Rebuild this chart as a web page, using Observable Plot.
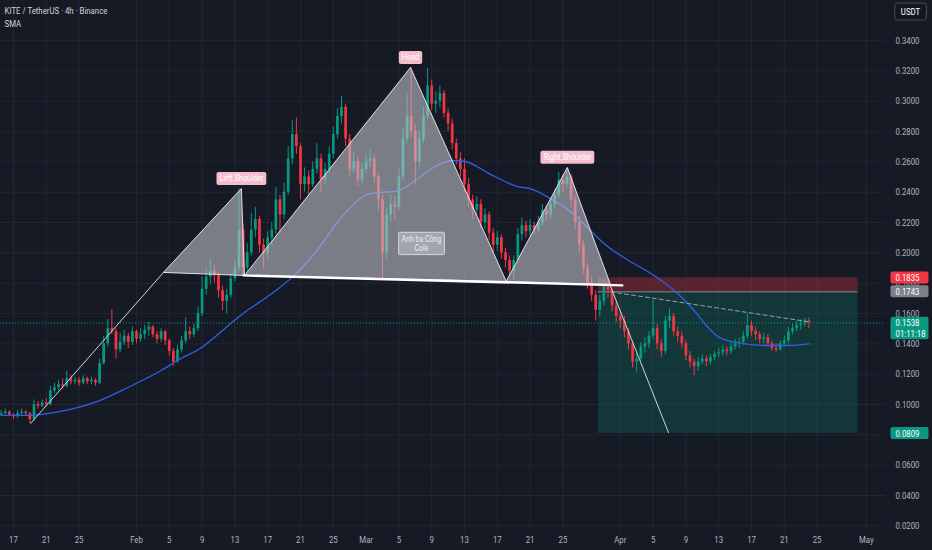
<!DOCTYPE html>
<html><head><meta charset="utf-8">
<script src="https://cdn.jsdelivr.net/npm/d3@7"></script>
<script src="https://cdn.jsdelivr.net/npm/@observablehq/plot@0.6"></script>
<style>
html,body{margin:0;padding:0;background:#161a25;}
#chart{width:932px;height:550px;overflow:hidden;}
</style></head><body><div id="chart"></div>
<script>
// ---------- DATA ----------
const header = "KITE / TetherUS · 4h · Binance\nSMA";
const unit = "USDT";
const candleStart = "2026-01-15T12:00Z";   // 12h candles
const candleHours = 12;
const firstOpen = 0.093;
const closes = [0.094,0.095,0.093,0.092,0.094,0.095,0.094,0.090,0.100,0.099,
 0.101,0.100,0.109,0.111,0.113,0.112,0.117,0.115,0.116,0.114,
 0.117,0.115,0.116,0.114,0.127,0.140,0.150,0.148,0.136,0.141,
 0.145,0.141,0.148,0.143,0.146,0.149,0.151,0.146,0.143,0.148,
 0.142,0.135,0.128,0.136,0.142,0.148,0.146,0.150,0.160,0.176,
 0.184,0.188,0.185,0.175,0.168,0.172,0.183,0.190,0.215,0.190,
 0.200,0.215,0.222,0.205,0.200,0.210,0.215,0.235,0.225,0.240,
 0.262,0.278,0.270,0.245,0.250,0.245,0.255,0.262,0.248,0.255,
 0.265,0.278,0.290,0.296,0.275,0.255,0.260,0.248,0.255,0.260,
 0.262,0.250,0.235,0.200,0.225,0.232,0.230,0.250,0.275,0.290,
 0.280,0.260,0.275,0.290,0.310,0.298,0.300,0.305,0.292,0.285,
 0.272,0.262,0.255,0.245,0.235,0.228,0.232,0.220,0.225,0.213,
 0.205,0.210,0.200,0.195,0.188,0.195,0.212,0.218,0.214,0.218,
 0.215,0.220,0.228,0.225,0.232,0.238,0.248,0.245,0.250,0.235,
 0.220,0.205,0.190,0.180,0.172,0.162,0.168,0.178,0.175,0.165,
 0.158,0.155,0.148,0.140,0.128,0.130,0.138,0.140,0.145,0.150,
 0.140,0.135,0.155,0.158,0.148,0.145,0.140,0.132,0.128,0.125,
 0.128,0.130,0.128,0.131,0.133,0.134,0.136,0.135,0.138,0.140,
 0.141,0.145,0.152,0.148,0.146,0.143,0.144,0.140,0.137,0.136,
 0.140,0.142,0.148,0.150,0.152,0.153,0.155,0.1538];
const highs = [0.096,0.097,0.096,0.094,0.096,0.097,0.096,0.095,0.103,0.102,
 0.103,0.104,0.112,0.114,0.116,0.117,0.122,0.119,0.118,0.118,
 0.119,0.118,0.118,0.117,0.130,0.145,0.156,0.1626,0.150,0.147,
 0.149,0.147,0.151,0.149,0.150,0.152,0.154,0.152,0.148,0.150,
 0.149,0.143,0.137,0.139,0.145,0.157,0.151,0.153,0.164,0.184,
 0.190,0.196,0.192,0.187,0.178,0.176,0.186,0.194,0.2424,0.219,
 0.206,0.226,0.230,0.224,0.209,0.214,0.220,0.243,0.238,0.246,
 0.270,0.287,0.289,0.272,0.256,0.254,0.260,0.272,0.265,0.259,
 0.270,0.283,0.295,0.303,0.298,0.278,0.266,0.263,0.259,0.265,
 0.268,0.264,0.252,0.238,0.230,0.238,0.237,0.255,0.282,0.305,
 0.3222,0.285,0.280,0.296,0.3215,0.314,0.306,0.310,0.307,0.295,
 0.288,0.275,0.266,0.262,0.249,0.238,0.237,0.235,0.229,0.227,
 0.216,0.214,0.212,0.203,0.198,0.198,0.216,0.223,0.221,0.222,
 0.220,0.224,0.232,0.231,0.236,0.242,0.253,0.251,0.2556,0.252,
 0.238,0.224,0.208,0.193,0.184,0.175,0.172,0.182,0.181,0.177,
 0.168,0.162,0.158,0.150,0.142,0.135,0.141,0.144,0.148,0.1686,
 0.153,0.143,0.158,0.163,0.160,0.151,0.148,0.142,0.135,0.130,
 0.131,0.133,0.132,0.133,0.135,0.137,0.139,0.138,0.141,0.143,
 0.144,0.148,0.160,0.155,0.151,0.148,0.147,0.146,0.142,0.140,
 0.142,0.145,0.151,0.153,0.155,0.156,0.157,0.157];
const lows = [0.092,0.093,0.092,0.090,0.091,0.093,0.092,0.0875,0.089,0.097,
 0.098,0.098,0.099,0.107,0.109,0.110,0.111,0.113,0.113,0.112,
 0.113,0.113,0.113,0.112,0.113,0.126,0.138,0.146,0.130,0.134,
 0.139,0.137,0.139,0.140,0.141,0.143,0.145,0.144,0.140,0.141,
 0.139,0.132,0.125,0.127,0.134,0.140,0.143,0.144,0.148,0.158,
 0.172,0.179,0.180,0.170,0.162,0.160,0.170,0.181,0.188,0.185,
 0.188,0.198,0.210,0.200,0.190,0.196,0.205,0.212,0.213,0.222,
 0.238,0.258,0.265,0.235,0.240,0.238,0.243,0.252,0.240,0.245,
 0.252,0.262,0.275,0.285,0.270,0.250,0.252,0.244,0.245,0.252,
 0.256,0.246,0.228,0.183,0.196,0.220,0.222,0.228,0.248,0.272,
 0.276,0.245,0.256,0.272,0.288,0.294,0.292,0.296,0.289,0.280,
 0.268,0.258,0.250,0.240,0.230,0.222,0.224,0.216,0.215,0.208,
 0.200,0.201,0.196,0.190,0.184,0.182,0.193,0.208,0.210,0.211,
 0.212,0.213,0.218,0.221,0.222,0.229,0.236,0.240,0.243,0.230,
 0.215,0.200,0.186,0.176,0.168,0.155,0.158,0.165,0.170,0.161,
 0.154,0.150,0.144,0.136,0.124,0.121,0.128,0.134,0.137,0.143,
 0.136,0.131,0.133,0.150,0.145,0.141,0.137,0.129,0.124,0.119,
 0.122,0.126,0.125,0.126,0.129,0.131,0.132,0.132,0.133,0.136,
 0.137,0.139,0.143,0.145,0.142,0.140,0.140,0.138,0.135,0.134,
 0.135,0.138,0.140,0.146,0.148,0.149,0.151,0.150];

const smaDates = ["2026-01-15T12:00Z","2026-01-19T00:00Z","2026-01-21T12:00Z","2026-01-25T00:00Z","2026-01-27T12:00Z","2026-01-31T00:00Z","2026-02-04T00:00Z","2026-02-06T00:00Z","2026-02-09T00:00Z","2026-02-12T12:00Z","2026-02-14T00:00Z","2026-02-16T00:00Z","2026-02-18T00:00Z","2026-02-20T00:00Z","2026-02-23T00:00Z","2026-02-26T00:00Z","2026-03-01T12:00Z","2026-03-05T00:00Z","2026-03-07T00:00Z","2026-03-09T00:00Z","2026-03-11T12:00Z","2026-03-13T00:00Z","2026-03-16T00:00Z","2026-03-19T12:00Z","2026-03-21T00:00Z","2026-03-23T12:00Z","2026-03-25T12:00Z","2026-03-28T00:00Z","2026-03-30T00:00Z","2026-04-02T00:00Z","2026-04-04T12:00Z","2026-04-06T00:00Z","2026-04-08T00:00Z","2026-04-10T00:00Z","2026-04-11T12:00Z","2026-04-13T00:00Z","2026-04-15T00:00Z","2026-04-18T12:00Z","2026-04-21T12:00Z","2026-04-24T00:00Z"];
const smaValues = [0.0928,0.0928,0.0943,0.0982,0.1026,0.1114,0.1224,0.1290,0.1378,0.1534,0.1600,0.1675,0.1752,0.1840,0.2015,0.2235,0.2391,0.2411,0.2477,0.2556,0.2609,0.2604,0.2523,0.2437,0.2424,0.2358,0.2290,0.2167,0.2062,0.1950,0.1872,0.1818,0.1732,0.1620,0.1521,0.1444,0.1411,0.1389,0.1389,0.1400];

// pattern drawing
const leftShoulderDates = ["2026-02-04T07:00Z","2026-02-13T19:00Z","2026-02-14T04:00Z"];
const leftShoulderValues = [0.1871,0.2424,0.1851];
const headDates = ["2026-02-14T04:00Z","2026-03-06T10:00Z","2026-03-18T02:00Z"];
const headValues = [0.1851,0.3222,0.1812];
const rightShoulderDates = ["2026-03-18T02:00Z","2026-03-25T13:00Z","2026-03-30T19:00Z"];
const rightShoulderValues = [0.1812,0.2563,0.1791];
const patternLabels = ["Left Shoulder","Head","Right Shoulder"];
const necklineDates = ["2026-02-14T01:00Z","2026-04-01T06:00Z"];
const necklineValues = [0.1851,0.1785];
const upTrendDates = ["2026-01-19T02:00Z","2026-02-04T07:00Z"];
const upTrendValues = [0.0875,0.1871];
const downTrendDates = ["2026-03-30T16:00Z","2026-04-06T21:00Z"];
const downTrendValues = [0.1798,0.0815];
const projDates = ["2026-03-30T20:00Z","2026-04-23T20:00Z"];
const projValues = [0.1743,0.1547];
const noteText = "Anh ba Công\nCole";
const noteDate = "2026-03-07T18:00Z";
const noteValue = 0.2062;

// short position tool
const posStart = "2026-03-29T08:00Z", posEnd = "2026-04-30T00:00Z";
const entryPrice = 0.1743, stopPrice = 0.1835, targetPrice = 0.0809;
const lastPrice = 0.1538, countdown = "01:11:18";

// axes
const yTicks = [0.02,0.04,0.06,0.08,0.10,0.12,0.14,0.16,0.18,0.20,0.22,0.24,0.26,0.28,0.30,0.32,0.34];
const xTickDates = ["2026-01-17","2026-01-21","2026-01-25","2026-02-01","2026-02-05","2026-02-09","2026-02-13","2026-02-17","2026-02-21","2026-02-25","2026-03-01","2026-03-05","2026-03-09","2026-03-13","2026-03-17","2026-03-21","2026-03-25","2026-04-01","2026-04-05","2026-04-09","2026-04-13","2026-04-17","2026-04-21","2026-04-25","2026-05-01"];
const xTickLabels = ["17","21","25","Feb","5","9","13","17","21","25","Mar","5","9","13","17","21","25","Apr","5","9","13","17","21","25","May"];
const xDomain = ["2026-01-15T10:00Z","2026-05-03T08:10Z"];
const yDomain = [0.01495, 0.3664];

// ---------- BUILD ----------
const P = s => new Date(s);
const t0 = P(candleStart);
const candles = closes.map((c, i) => {
  const o = i ? closes[i - 1] : firstOpen;
  return {t: new Date(+t0 + i * candleHours * 3600e3), o, c,
          h: Math.max(highs[i], o, c), l: Math.min(lows[i], o, c)};
});
const UP = "#089981", DOWN = "#f23645";
const col = d => d.c >= d.o ? UP : DOWN;
const pts = (ds, vs) => ds.map((d, i) => ({t: P(d), v: vs[i]}));
const closed = a => a.concat([a[0]]);
const ls = pts(leftShoulderDates, leftShoulderValues);
const hd = pts(headDates, headValues);
const rs = pts(rightShoulderDates, rightShoulderValues);
const apexes = [ls[1], hd[1], rs[1]].map((p, i) => ({...p, label: patternLabels[i]}));
const sma = pts(smaDates, smaValues);
const tickMap = new Map(xTickDates.map((d, i) => [+P(d), xTickLabels[i]]));
const pos = {x1: P(posStart), x2: P(posEnd), entry: entryPrice, stop: stopPrice, target: targetPrice};
const fmt = d3.format(".4f");

const svg = Plot.plot({
  width: 932, height: 550,
  marginLeft: 0, marginRight: 47, marginTop: 0, marginBottom: 17,
  style: {background: "#161a25", color: "#b2b5be", fontFamily: "Roboto, 'Noto Sans', sans-serif", fontSize: "9.5px"},
  x: {type: "utc", domain: xDomain.map(P)},
  y: {domain: yDomain},
  marks: [
    Plot.gridX({ticks: xTickDates.map(P), stroke: "#222633", strokeOpacity: 1}),
    Plot.gridY({ticks: yTicks, stroke: "#222633", strokeOpacity: 1}),
    Plot.axisY({anchor: "right", ticks: yTicks, tickSize: 0, tickPadding: 10, tickFormat: fmt, label: null, fill: "#b2b5be"}),
    Plot.axisX({ticks: xTickDates.map(P), tickFormat: d => tickMap.get(+d), tickSize: 0, tickPadding: 3, label: null, fill: "#b2b5be"}),
    // position tool
    Plot.rect([pos], {x1: "x1", x2: "x2", y1: "entry", y2: "stop", fill: DOWN, fillOpacity: 0.3}),
    Plot.rect([pos], {x1: "x1", x2: "x2", y1: "target", y2: "entry", fill: UP, fillOpacity: 0.22}),
    Plot.ruleY([pos], {x1: "x1", x2: "x2", y: "entry", stroke: "#8a8d96", strokeWidth: 1}),
    // candles
    Plot.ruleX(candles, {x: "t", y1: "l", y2: "h", stroke: col, strokeWidth: 1}),
    Plot.ruleX(candles, {x: "t", y1: "o", y2: "c", stroke: col, strokeWidth: 2.7}),
    // SMA
    Plot.line(sma, {x: "t", y: "v", stroke: "#2f5fe8", strokeWidth: 1.3, curve: "monotone-x"}),
    // last price line
    Plot.ruleY([lastPrice], {stroke: UP, strokeDasharray: "1,2", strokeWidth: 1}),
    // pattern triangles
    Plot.line(closed(ls), {x: "t", y: "v", fill: "#c3c5cd", fillOpacity: 0.58, stroke: "#dfe1e8", strokeWidth: 1}),
    Plot.line(closed(hd), {x: "t", y: "v", fill: "#c3c5cd", fillOpacity: 0.58, stroke: "#dfe1e8", strokeWidth: 1}),
    Plot.line(closed(rs), {x: "t", y: "v", fill: "#c3c5cd", fillOpacity: 0.58, stroke: "#dfe1e8", strokeWidth: 1}),
    Plot.line(pts(upTrendDates, upTrendValues), {x: "t", y: "v", stroke: "#d1d4dc", strokeWidth: 1}),
    Plot.line(pts(downTrendDates, downTrendValues), {x: "t", y: "v", stroke: "#d1d4dc", strokeWidth: 1}),
    Plot.line(pts(projDates, projValues), {x: "t", y: "v", stroke: "#8fa8a8", strokeWidth: 1, strokeDasharray: "4,3"}),
    Plot.line(pts(necklineDates, necklineValues), {x: "t", y: "v", stroke: "#ffffff", strokeWidth: 2.3}),
    // labels
    Plot.text(apexes, {x: "t", y: "v", text: "label", dy: -10, fill: "#ffffff", fontSize: 9}),
    Plot.text([{t: P(noteDate), v: noteValue, s: noteText}], {x: "t", y: "v", text: "s", fill: "#eeeeee", fontSize: 8.5, lineHeight: 1.1}),
    Plot.text([header], {text: d => d, frameAnchor: "top-left", dx: 4, dy: 4, textAnchor: "start", lineAnchor: "top", fill: "#d1d4dc", fontSize: 9.5, lineHeight: 1.4}),
    // price tags
    Plot.text([stopPrice], {y: d => d, text: fmt, frameAnchor: "right", dx: 10, textAnchor: "start", fill: "#ffffff"}),
    Plot.text([entryPrice], {y: d => d, text: fmt, frameAnchor: "right", dx: 10, textAnchor: "start", fill: "#ffffff"}),
    Plot.text([lastPrice], {y: d => d, text: d => fmt(d) + "\n" + countdown, frameAnchor: "right", dx: 10, dy: 5.2, textAnchor: "start", lineAnchor: "middle", lineHeight: 1.12, fill: "#ffffff"}),
    Plot.text([targetPrice], {y: d => d, text: fmt, frameAnchor: "right", dx: 10, textAnchor: "start", fill: "#ffffff"}),
    Plot.text([unit], {text: d => d, frameAnchor: "top-right", dx: 25, dy: 11.5, textAnchor: "middle", lineAnchor: "middle", fill: "#ffffff", fontSize: 9.5})
  ]
});
document.getElementById("chart").append(svg);

// condense text (reference glyphs are narrow)
const K = 0.82;
svg.querySelectorAll("text").forEach(t => {
  const ts = t.querySelectorAll("tspan");
  (ts.length ? Array.from(ts) : [t]).forEach(n => {
    const L = n.getComputedTextLength();
    if (L > 0) { n.setAttribute("textLength", (L * K).toFixed(2)); n.setAttribute("lengthAdjust", "spacingAndGlyphs"); }
  });
});

const NS = "http://www.w3.org/2000/svg";
function boxify(match, o) {
  Array.from(svg.querySelectorAll("text")).forEach(t => {
    if (!match(t.textContent)) return;
    const b = t.getBBox();
    const r = document.createElementNS(NS, "rect");
    const w = o.width != null ? o.width : b.width + o.padL + o.padR;
    r.setAttribute("x", b.x - o.padL); r.setAttribute("y", b.y - o.padY);
    r.setAttribute("width", w); r.setAttribute("height", b.height + 2 * o.padY);
    r.setAttribute("rx", o.rx); r.setAttribute("fill", o.fill);
    if (o.stroke) { r.setAttribute("stroke", o.stroke); r.setAttribute("stroke-width", 1); }
    const tr = t.getAttribute("transform");
    if (tr) r.setAttribute("transform", tr);
    t.parentNode.insertBefore(r, t);
  });
}
boxify(s => patternLabels.includes(s), {padL: 3, padR: 3, padY: 1.5, rx: 2, fill: "#f5bccb"});
boxify(s => s === noteText.replace("\n", ""), {padL: 3, padR: 3, padY: 1.5, rx: 1, fill: "#a2a5ad", stroke: "#d6d8de"});
boxify(s => s === fmt(stopPrice), {padL: 5, width: 38, padY: 0.5, rx: 2, fill: DOWN});
boxify(s => s === fmt(entryPrice), {padL: 5, width: 38, padY: 0.5, rx: 2, fill: "#7c7f8a"});
boxify(s => s === fmt(lastPrice) + countdown || s === fmt(targetPrice), {padL: 5, width: 38, padY: 0.5, rx: 2, fill: UP});
boxify(s => s === unit, {padL: 6, padR: 6, padY: 3, rx: 3, fill: "#131722", stroke: "#4a4e5a"});
</script>
</body></html>
